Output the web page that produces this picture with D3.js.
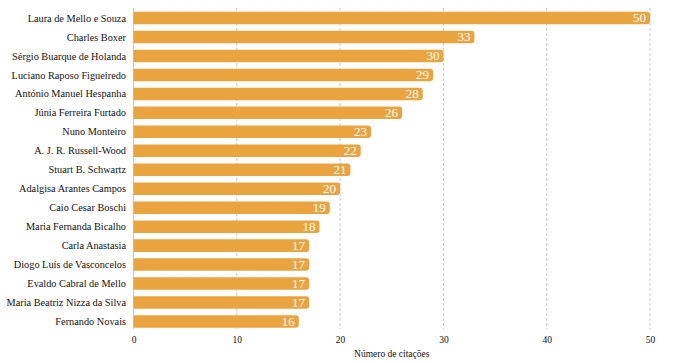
<!DOCTYPE html>
<html><head><meta charset="utf-8">
<script src="https://cdn.jsdelivr.net/npm/d3@7"></script>
<style>body{margin:0;background:#fff;}</style>
</head><body>
<svg id="c" width="700" height="363" font-family="Liberation Serif"></svg>
<script>
const names = ["Laura de Mello e Souza","Charles Boxer","Sérgio Buarque de Holanda","Luciano Raposo Figueiredo","António Manuel Hespanha","Júnia Ferreira Furtado","Nuno Monteiro","A. J. R. Russell-Wood","Stuart B. Schwartz","Adalgisa Arantes Campos","Caio Cesar Boschi","Maria Fernanda Bicalho","Carla Anastasia","Diogo Luís de Vasconcelos","Evaldo Cabral de Mello","Maria Beatriz Nizza da Silva","Fernando Novais"];
const citations = [50,33,30,29,28,26,23,22,21,20,19,18,17,17,17,17,16];
const xTicks = [0,10,20,30,40,50];
const xTitle = "Número de citações";
const FONT = "Liberation Serif";

const svg = d3.select("#c");
const x = d3.scaleLinear().domain([0,50]).range([133.5,650]);
const y = d3.scaleBand().domain(names).range([5.5,334]).paddingInner(0.34).paddingOuter(0.33);

// gridlines
svg.append("g").selectAll("line").data(xTicks).join("line")
  .attr("x1",d=>x(d)).attr("x2",d=>x(d)).attr("y1",8).attr("y2",329)
  .attr("stroke","#c8c8c8").attr("stroke-width",1)
  .attr("stroke-dasharray",d=>d===0?null:"3,2");

// bars with right rounded corners
const r = 3;
svg.append("g").selectAll("path").data(names).join("path")
  .attr("d",(d,i)=>{
    const x0 = x(0), x1 = x(citations[i]), y0 = y(d), h = y.bandwidth();
    return `M${x0},${y0}H${x1-r}Q${x1},${y0} ${x1},${y0+r}V${y0+h-r}Q${x1},${y0+h} ${x1-r},${y0+h}H${x0}Z`;
  })
  .attr("fill","#E9A440");

// value labels
svg.append("g").selectAll("text").data(names).join("text")
  .attr("x",(d,i)=>x(citations[i])-4)
  .attr("y",d=>y(d)+y.bandwidth()/2)
  .attr("dy","0.34em")
  .attr("text-anchor","end")
  .attr("fill","#fff")
  .attr("font-family",FONT)
  .attr("font-size",13)
  .text((d,i)=>citations[i]);

// category labels
svg.append("g").selectAll("text").data(names).join("text")
  .attr("x",126)
  .attr("y",d=>y(d)+y.bandwidth()/2)
  .attr("dy","0.35em")
  .attr("text-anchor","end")
  .attr("fill","#111")
  .attr("font-family",FONT)
  .attr("font-size",10.3)
  .text(d=>d);

// x axis
const ax = svg.append("g").attr("transform","translate(0,330)")
  .call(d3.axisBottom(x).tickValues(xTicks).tickSize(0).tickPadding(6));
ax.attr("font-family",FONT).attr("font-size",9.5);
ax.select(".domain").remove();
ax.selectAll("text").attr("fill","#111");

svg.append("text").attr("x",(x(0)+x(50))/2).attr("y",357)
  .attr("text-anchor","middle").attr("fill","#111")
  .attr("font-family",FONT).attr("font-size",9.5)
  .text(xTitle);
</script>
</body></html>
